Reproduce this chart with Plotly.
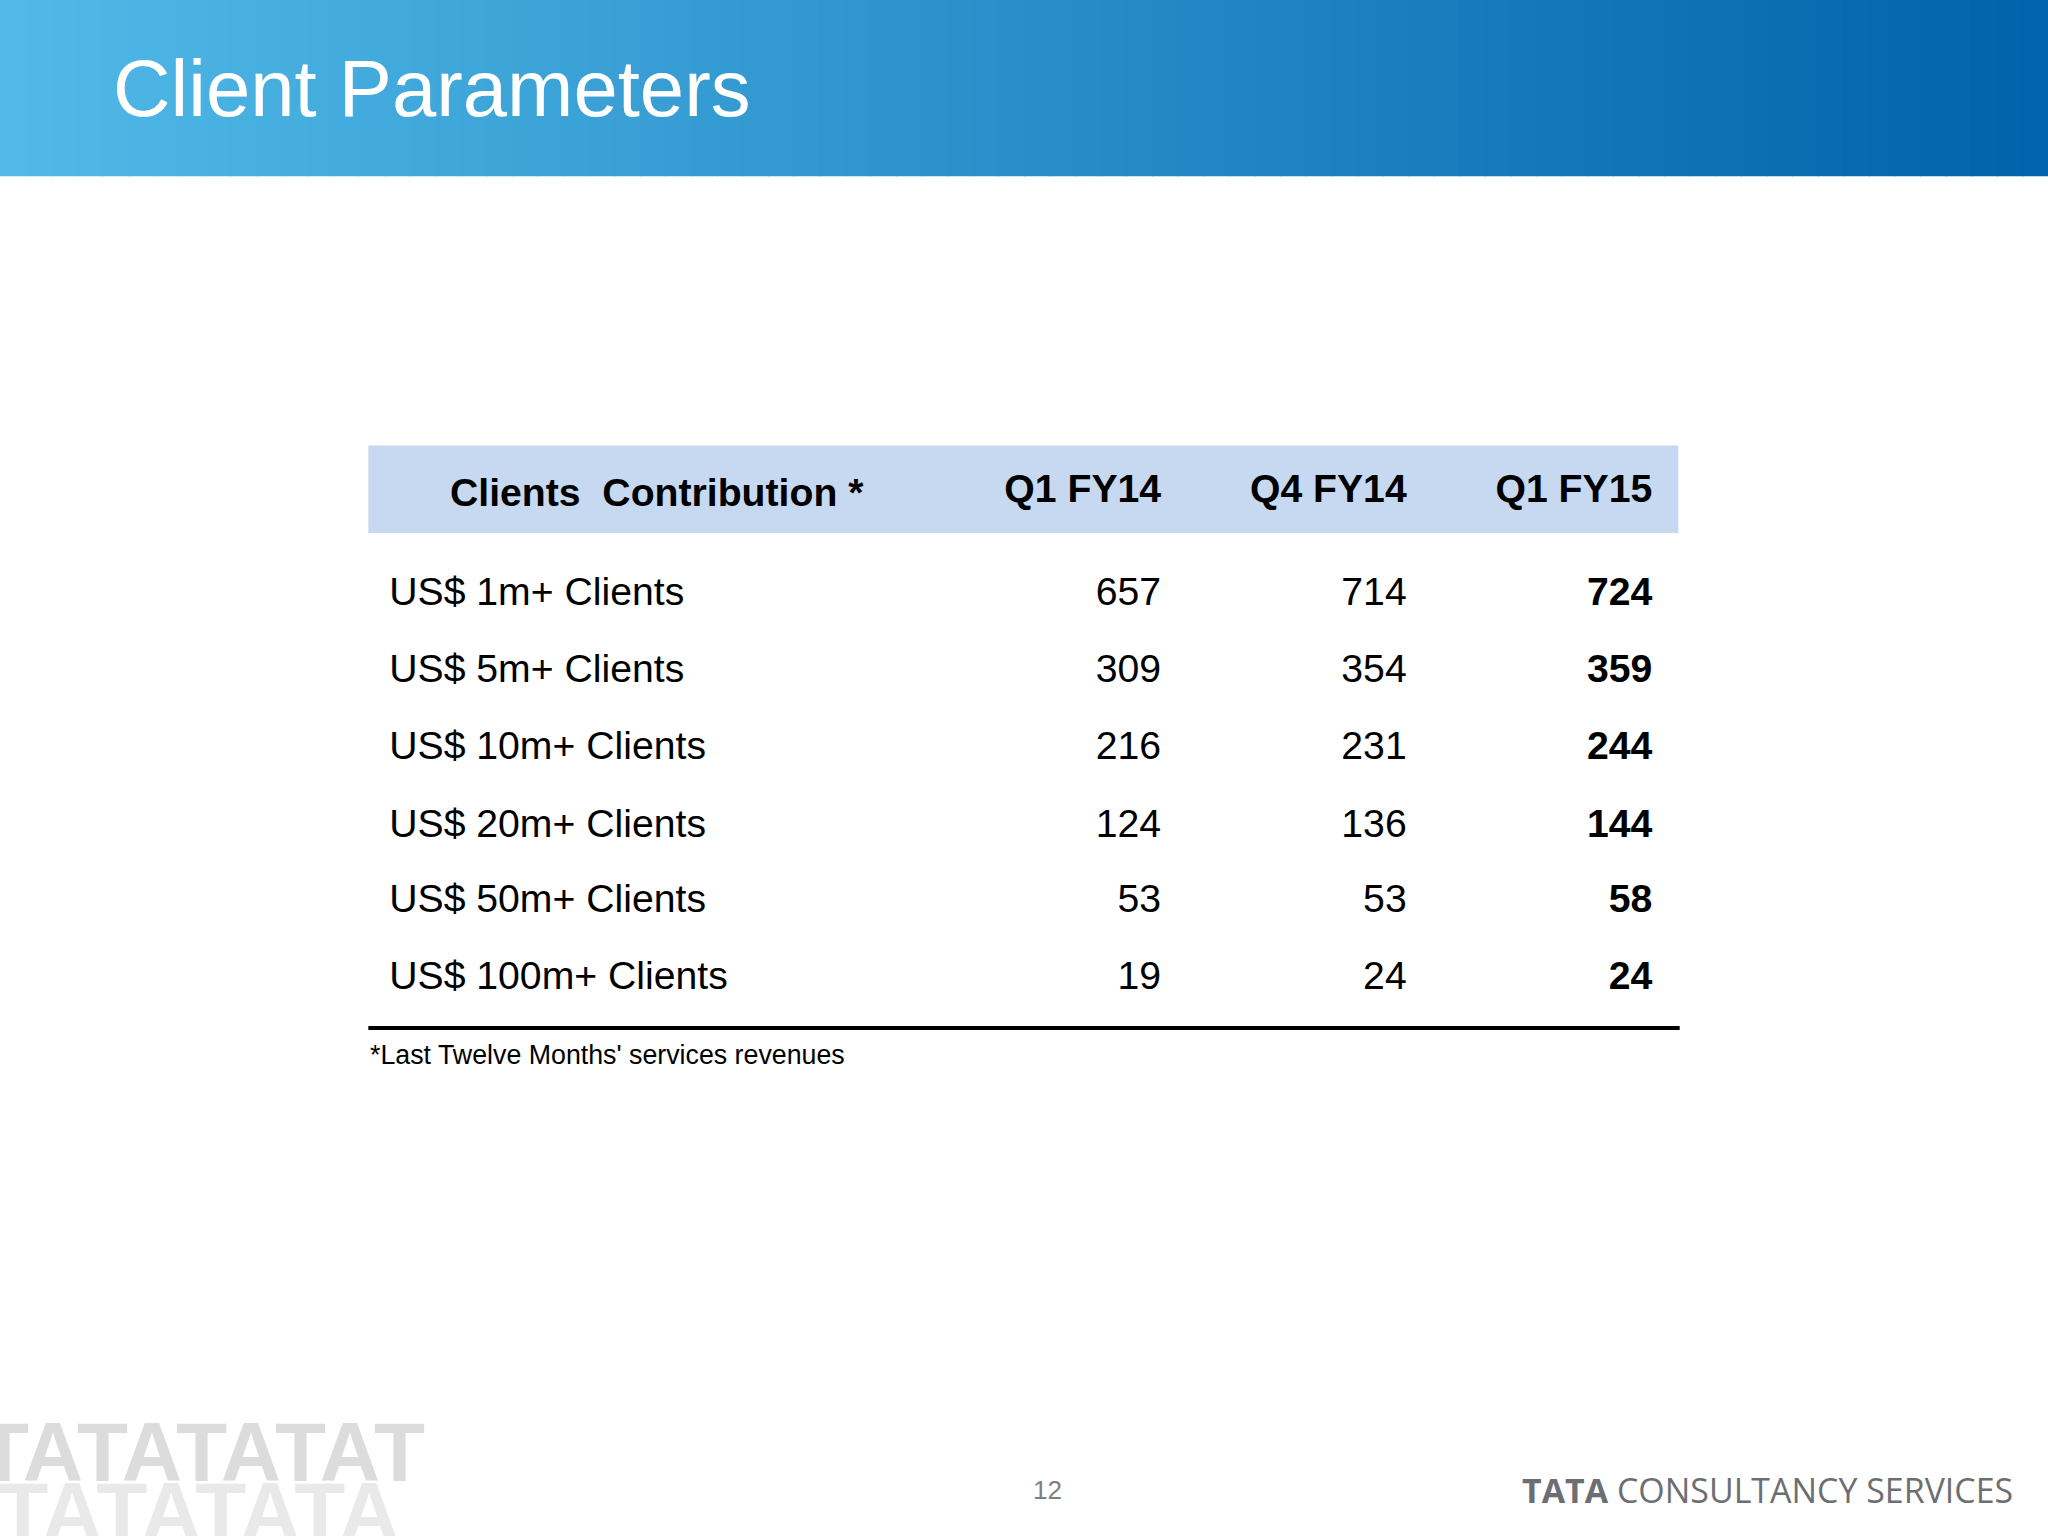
import plotly.graph_objects as go

categories = ["US$ 1m+ Clients", "US$ 5m+ Clients", "US$ 10m+ Clients",
              "US$ 20m+ Clients", "US$ 50m+ Clients", "US$ 100m+ Clients"]
periods = ["Q1 FY14", "Q4 FY14", "Q1 FY15"]
q1_fy14 = [657, 309, 216, 124, 53, 19]
q4_fy14 = [714, 354, 231, 136, 53, 24]
q1_fy15 = [724, 359, 244, 144, 58, 24]
series = [q1_fy14, q4_fy14, q1_fy15]

S = 2048 / 1568
F = "Liberation Sans, Arial, sans-serif"
fig = go.Figure()

row_y = [456, 515, 574, 633, 691, 750]
col_x = [889, 1077, 1265]

shapes = []
n = 80
c0 = (82, 186, 232); c1 = (0, 100, 172)
for i in range(n):
    t = i / (n - 1)
    col = "rgb(%d,%d,%d)" % tuple(int(a + (b - a) * t) for a, b in zip(c0, c1))
    shapes.append(dict(type="rect", xref="x", yref="y", x0=1568 * i / n, x1=1568 * (i + 1) / n + 1,
                       y0=0, y1=135, fillcolor=col, line_width=0, layer="below"))
shapes.append(dict(type="rect", xref="x", yref="y", x0=282, x1=1285, y0=341, y1=408,
                   fillcolor="#c6d9f1", line_width=0, layer="below"))
shapes.append(dict(type="line", xref="x", yref="y", x0=282, x1=1286, y0=787, y1=787,
                   line=dict(color="black", width=4)))

fig.add_trace(go.Scatter(x=[298] * len(categories), y=row_y, text=categories, mode="text",
                         textposition="middle right", textfont=dict(family=F, size=30 * S, color="black"),
                         hoverinfo="skip"))
for j, (p, vals) in enumerate(zip(periods, series)):
    txt = [f"<b>{v}</b>" if j == 2 else str(v) for v in vals]
    fig.add_trace(go.Scatter(x=[col_x[j]] * len(vals), y=row_y, text=txt, mode="text",
                             textposition="middle left", textfont=dict(family=F, size=30 * S, color="black"),
                             hoverinfo="skip"))
    fig.add_trace(go.Scatter(x=[col_x[j]], y=[377], text=[f"<b>{p}</b>"], mode="text",
                             textposition="middle left", textfont=dict(family=F, size=30 * S, color="black"),
                             hoverinfo="skip"))

ann = [
    dict(x=503, y=377, text="<b>Clients  Contribution *</b>", font=dict(family=F, size=30 * S, color="black")),
    dict(x=85, y=68, text="Client Parameters", xanchor="left", font=dict(family=F, size=61 * S, color="white")),
    dict(x=282, y=808, text="*Last Twelve Months' services revenues", xanchor="left",
         font=dict(family=F, size=20.5 * S, color="black")),
    dict(x=802, y=1141, text="12", font=dict(family=F, size=20 * S, color="#7f7f7f")),
    dict(x=1543, y=1141, text="<b>TATA</b> CONSULTANCY SERVICES", xanchor="right",
         font=dict(family="Open Sans, sans-serif", size=26 * S, color="#6d6e71")),
    dict(x=1, y=1112, text="<b>TATATATAT</b>", xanchor="left", xshift=-25,
         font=dict(family=F, size=64 * S, color="#dcdcdc")),
    dict(x=1, y=1158, text="<b>ATATATATA</b>", xanchor="left", xshift=-60,
         font=dict(family=F, size=64 * S, color="#e9e9e9")),
]
for a in ann:
    a.update(xref="x", yref="y", showarrow=False)
    a.setdefault("xanchor", "center")

fig.update_layout(width=2048, height=1536, margin=dict(l=0, r=0, t=0, b=0),
                  paper_bgcolor="white", plot_bgcolor="white", showlegend=False,
                  shapes=shapes, annotations=ann,
                  xaxis=dict(range=[0, 1568], visible=False, fixedrange=True),
                  yaxis=dict(range=[1176, 0], visible=False, fixedrange=True))
fig.write_html("out.html", config={"displayModeBar": False},
               post_script="document.body.style.margin='0';document.body.style.padding='0';")
